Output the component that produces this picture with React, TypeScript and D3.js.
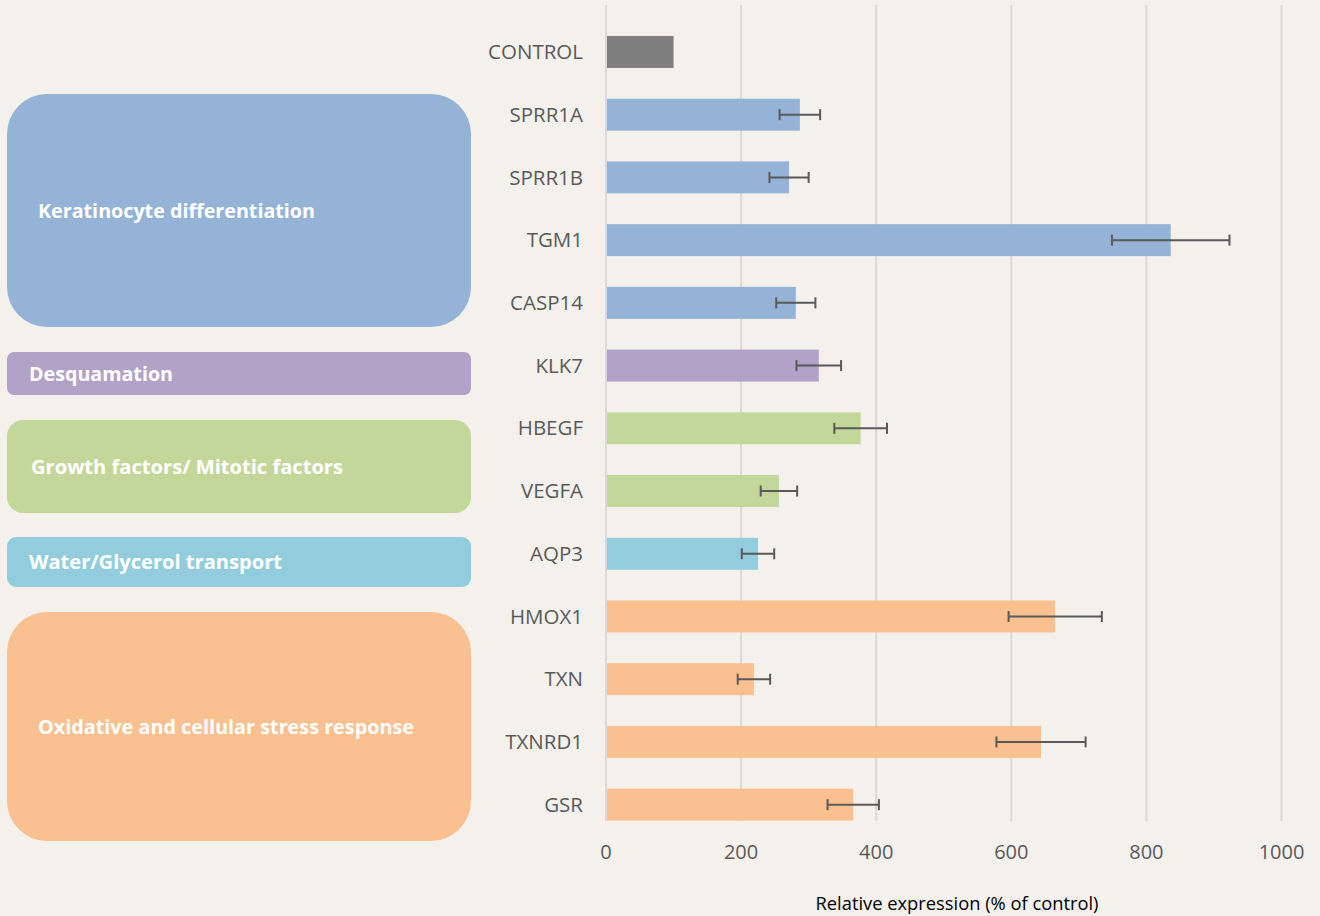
import React from "react";
import * as d3 from "d3";

const categories = ["CONTROL","SPRR1A","SPRR1B","TGM1","CASP14","KLK7","HBEGF","VEGFA","AQP3","HMOX1","TXN","TXNRD1","GSR"];
const values = [100, 287, 271, 836, 281, 315, 377, 256, 225, 665, 219, 644, 366];
const errors = [0, 30, 29, 87, 29, 33, 39, 27, 24, 69, 24, 66, 38];
const groupOf = ["control","kera","kera","kera","kera","desq","growth","growth","water","oxid","oxid","oxid","oxid"];
const xTicks = [0, 200, 400, 600, 800, 1000];

const groupNames = ["Keratinocyte differentiation","Desquamation","Growth factors/ Mitotic factors","Water/Glycerol transport","Oxidative and cellular stress response"];
const groupKeys = ["kera","desq","growth","water","oxid"];

const colors: Record<string,string> = {
  control: "#7F7F7F",
  kera: "#95B3D7",
  desq: "#B3A2C7",
  growth: "#C4D79B",
  water: "#93CDDD",
  oxid: "#FAC090",
};

// layout of the left category boxes (presentation only)
const boxes = [
  { y: 94, h: 233, r: 40, tx: 38, tw: 277 },
  { y: 352, h: 43, r: 7, tx: 29, tw: 144 },
  { y: 420, h: 93, r: 16, tx: 31, tw: 312 },
  { y: 537, h: 50, r: 9, tx: 29, tw: 253 },
  { y: 612, h: 229, r: 40, tx: 38, tw: 376 },
];

export default function App() {
  const W = 1320, H = 916;
  const x = d3.scaleLinear().domain([0, 1000]).range([606, 1281.5]);
  const y = d3.scaleBand<string>().domain(categories).range([20.6, 836]).paddingInner(0.49).paddingOuter(0.245);
  const bw = y.bandwidth();
  const font = "'Open Sans', sans-serif";
  return (
    <svg width={W} height={H} style={{ position: "absolute", left: 0, top: 0, background: "#F4F1EC" }}>
      <rect x={0} y={0} width={W} height={H} fill="#F4F1EC" />
      {xTicks.map((t) => (
        <line key={t} x1={x(t)} x2={x(t)} y1={5} y2={821} stroke="#D9D9D9" strokeWidth={2} />
      ))}
      {categories.map((c, i) => {
        const yy = y(c)!;
        const cy = yy + bw / 2;
        const v = values[i], e = errors[i];
        return (
          <g key={c}>
            <rect x={x(0) + 1} y={yy} width={x(v) - x(0) - 1} height={bw} fill={colors[groupOf[i]]} />
            <text x={583} y={cy} dy="0.35em" textAnchor="end" fontFamily={font} fontSize={20.5} fill="#595959">{c}</text>
            {e > 0 && (
              <g stroke="#595959" strokeWidth={2}>
                <line x1={x(v - e)} x2={x(v + e)} y1={cy} y2={cy} />
                <line x1={x(v - e)} x2={x(v - e)} y1={cy - 5.5} y2={cy + 5.5} />
                <line x1={x(v + e)} x2={x(v + e)} y1={cy - 5.5} y2={cy + 5.5} />
              </g>
            )}
          </g>
        );
      })}
      {xTicks.map((t) => (
        <text key={"l" + t} x={x(t)} y={852} dy="0.35em" textAnchor="middle" fontFamily={font} fontSize={20} fill="#595959">{t}</text>
      ))}
      <text x={957} y={904} dy="0.35em" textAnchor="middle" fontFamily={font} fontSize={18} fill="#000" textLength={283} lengthAdjust="spacingAndGlyphs">Relative expression (% of control)</text>
      {groupKeys.map((k, i) => {
        const b = boxes[i];
        return (
          <g key={k}>
            <rect x={7} y={b.y} width={464} height={b.h} rx={b.r} ry={b.r} fill={colors[k]} />
            <text x={b.tx} y={b.y + b.h / 2} dy="0.35em" fontFamily={font} fontWeight="bold" fontSize={20} fill="#FFFFFF" textLength={b.tw} lengthAdjust="spacingAndGlyphs">{groupNames[i]}</text>
          </g>
        );
      })}
    </svg>
  );
}
